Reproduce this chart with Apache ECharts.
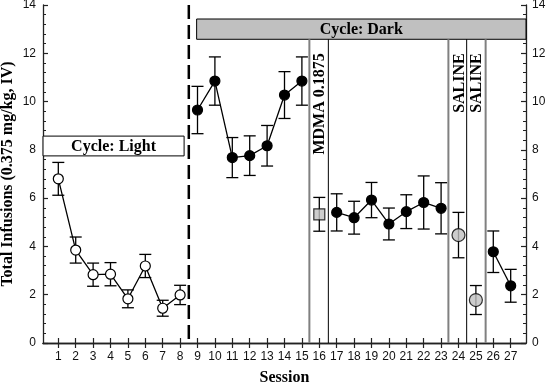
<!DOCTYPE html>
<html><head><meta charset="utf-8">
<script src="https://cdn.jsdelivr.net/npm/echarts@6/dist/echarts.min.js"></script>
<style>html,body{margin:0;padding:0;background:#fff}#c{width:547px;height:384px}</style>
</head><body><div id="c"></div>
<script>
// ---- data ----
const sessions = [1,2,3,4,5,6,7,8,9,10,11,12,13,14,15,16,17,18,19,20,21,22,23,24,25,26,27];
const yTicks = [0,2,4,6,8,10,12,14];

const lightSessions = [1,2,3,4,5,6,7,8];
const lightMean = [6.80,3.85,2.83,2.85,1.83,3.19,1.44,1.99];
const lightSem  = [0.68,0.54,0.48,0.48,0.37,0.48,0.33,0.40];

const darkSessionsA = [9,10,11,12,13,14,15];
const darkMeanA = [9.65,10.85,7.68,7.76,8.17,10.27,10.85];
const darkSemA  = [0.98,1.00,0.83,0.82,0.84,0.97,1.00];

const mdmaSessions = [16];
const mdmaMean = [5.33];
const mdmaSem  = [0.70];

const darkSessionsB = [17,18,19,20,21,22,23];
const darkMeanB = [5.41,5.19,5.92,4.93,5.44,5.82,5.58];
const darkSemB  = [0.77,0.68,0.73,0.66,0.70,1.10,1.06];

const salineSessions = [24,25];
const salineMean = [4.47,1.78];
const salineSem  = [0.94,0.60];

const darkSessionsC = [26,27];
const darkMeanC = [3.78,2.37];
const darkSemC  = [0.86,0.68];

// annotations (data space)
const cycleLabels = ['Cycle: Light','Cycle: Dark'];
const cycleX0 = [0.12, 8.95];
const cycleX1 = [8.23, 27.88];
const cycleY0 = [7.75, 12.58];
const cycleY1 = [8.57, 13.42];

const phaseSplit = 8.5;
const dividerX = [15.43,16.52,23.42,24.47,25.56];
const dividerKind = ['gray','black','gray','black','gray'];
const dividerTop = 12.58;

const phaseLabels = ['MDMA 0.1875','SALINE','SALINE'];
const phaseLabelX = [16,24,25];
const phaseLabelTop = 12.0;

// ---- build ----
const xMin = 0.12, xMax = 27.88;
const serif = 'Liberation Serif';
const sans = 'Liberation Sans';
const serifFont = 'bold 16px "Liberation Serif"';

function pts(xs, ys){ return xs.map((x,i)=>[x, ys[i]]); }
function errs(xs, ys, es){ return xs.map((x,i)=>[x, ys[i], es[i]]); }

const errData = [].concat(
  errs(lightSessions, lightMean, lightSem),
  errs(darkSessionsA, darkMeanA, darkSemA),
  errs(mdmaSessions, mdmaMean, mdmaSem),
  errs(darkSessionsB, darkMeanB, darkSemB),
  errs(salineSessions, salineMean, salineSem),
  errs(darkSessionsC, darkMeanC, darkSemC)
);

const boxData = cycleLabels.map((l,i)=>[cycleX0[i], cycleX1[i], cycleY0[i], cycleY1[i], i]);
const dividerData = dividerX.map((x,i)=>[x, dividerTop, i]);
const phaseData = phaseLabels.map((l,i)=>[phaseLabelX[i], phaseLabelTop, i]);

const black = '#000';
const axisCol = '#222';

const lineSeries = (data, fill) => ({
  type:'line', data, symbol:'circle', symbolSize:10, z:5,
  lineStyle:{color:black, width:1.3},
  itemStyle:{color:fill, borderColor:black, borderWidth:1.2},
  emphasis:{disabled:true}
});

const chart = echarts.init(document.getElementById('c'), null, {renderer:'canvas'});
chart.setOption({
  animation:false,
  backgroundColor:'#fff',
  grid:{left:43, right:21, top:5, bottom:41, containLabel:false, outerBoundsMode:'none'},
  xAxis:[{
    type:'value', min:xMin, max:xMax, position:'bottom',
    axisLine:{lineStyle:{color:axisCol, width:1.3}},
    axisTick:{inside:true, length:5, customValues:sessions, lineStyle:{color:axisCol, width:1.2}},
    axisLabel:{customValues:sessions, fontFamily:sans, fontSize:12, color:'#111', margin:8},
    splitLine:{show:false},
    name:'Session', nameLocation:'middle', nameGap:27, nameMoveOverlap:false,
    nameTextStyle:{fontFamily:serif, fontWeight:'bold', fontSize:16, color:black}
  },{
    type:'value', min:xMin, max:xMax, position:'top',
    axisLine:{lineStyle:{color:axisCol, width:1.3}},
    axisTick:{inside:true, length:5, customValues:sessions, lineStyle:{color:axisCol, width:1.2}},
    axisLabel:{show:false}, splitLine:{show:false}
  }],
  yAxis:[{
    type:'value', min:0, max:14, interval:2, position:'left',
    axisLine:{show:true, lineStyle:{color:axisCol, width:1.3}},
    axisTick:{show:true, inside:true, length:5, lineStyle:{color:axisCol, width:1.2}},
    minorTick:{show:true, splitNumber:5, length:3, lineStyle:{color:axisCol, width:1}},
    axisLabel:{fontFamily:sans, fontSize:12, color:'#111', margin:7,
      formatter:v=> yTicks.includes(v) ? String(v) : ''},
    splitLine:{show:false},
    name:'Total Infusions (0.375 mg/kg, IV)', nameLocation:'middle', nameGap:27, nameMoveOverlap:false,
    nameTextStyle:{fontFamily:serif, fontWeight:'bold', fontSize:16, color:black}
  },{
    type:'value', min:0, max:14, interval:2, position:'right',
    axisLine:{show:true, lineStyle:{color:axisCol, width:1.3}},
    axisTick:{show:true, inside:true, length:5, lineStyle:{color:axisCol, width:1.2}},
    minorTick:{show:true, splitNumber:5, length:3, lineStyle:{color:axisCol, width:1}},
    axisLabel:{fontFamily:sans, fontSize:12, color:'#111', margin:6},
    splitLine:{show:false}
  }],
  series:[
    { // dashed phase split line
      type:'custom', z:1, silent:true, clip:false,
      data:[[phaseSplit]],
      renderItem:(p, api)=>{
        const a = api.coord([api.value(0), 14]);
        const b = api.coord([api.value(0), 0]);
        return {type:'line', shape:{x1:a[0],y1:a[1],x2:b[0],y2:b[1]},
          style:{stroke:black, lineWidth:2.5, lineDash:[14,6]}};
      }
    },
    { // cycle boxes
      type:'custom', z:2, silent:true, clip:false,
      data:boxData,
      renderItem:(p, api)=>{
        const i = api.value(4);
        const tl = api.coord([api.value(0), api.value(3)]);
        const br = api.coord([api.value(1), api.value(2)]);
        return {type:'group', children:[
          {type:'rect', shape:{x:tl[0], y:tl[1], width:br[0]-tl[0], height:br[1]-tl[1]},
            style:{fill: i===0 ? '#fff' : '#c0c0c0', stroke:black, lineWidth:1}},
          {type:'text', x:(tl[0]+br[0])/2, y:(tl[1]+br[1])/2+1,
            style:{text:cycleLabels[i], fill:black, font:serifFont,
              align:'center', verticalAlign:'middle'}}
        ]};
      }
    },
    { // divider lines
      type:'custom', z:2, silent:true, clip:false,
      data:dividerData,
      renderItem:(p, api)=>{
        const i = api.value(2);
        const a = api.coord([api.value(0), api.value(1)]);
        const b = api.coord([api.value(0), 0]);
        const g = dividerKind[i]==='gray';
        return {type:'line', shape:{x1:a[0],y1:a[1],x2:b[0],y2:b[1]},
          style:{stroke: g ? '#808080' : black, lineWidth: g ? 2 : 1}};
      }
    },
    { // vertical phase labels
      type:'custom', z:3, silent:true, clip:false,
      data:phaseData,
      renderItem:(p, api)=>{
        const i = api.value(2);
        const a = api.coord([api.value(0), api.value(1)]);
        return {type:'text', x:a[0]+1, y:a[1], rotation:Math.PI/2,
          style:{text:phaseLabels[i], fill:black, font:serifFont,
            align:'right', verticalAlign:'middle'}};
      }
    },
    { // error bars
      type:'custom', z:4, silent:true,
      data:errData, encode:{x:0, y:1},
      renderItem:(p, api)=>{
        const x = api.value(0), m = api.value(1), e = api.value(2);
        const t = api.coord([x, m+e]), b = api.coord([x, m-e]);
        const hw = 6, st = {stroke:black, lineWidth:1.3};
        return {type:'group', children:[
          {type:'line', shape:{x1:t[0],y1:t[1],x2:b[0],y2:b[1]}, style:st},
          {type:'line', shape:{x1:t[0]-hw,y1:t[1],x2:t[0]+hw,y2:t[1]}, style:st},
          {type:'line', shape:{x1:b[0]-hw,y1:b[1],x2:b[0]+hw,y2:b[1]}, style:st}
        ]};
      }
    },
    lineSeries(pts(lightSessions, lightMean), '#fff'),
    lineSeries(pts(darkSessionsA, darkMeanA), black),
    lineSeries(pts(darkSessionsB, darkMeanB), black),
    lineSeries(pts(darkSessionsC, darkMeanC), black),
    { type:'scatter', data:pts(mdmaSessions, mdmaMean), symbol:'rect', symbolSize:11, z:5,
      itemStyle:{color:'#c0c0c0', borderColor:black, borderWidth:1.2}, emphasis:{disabled:true} },
    { type:'scatter', data:pts(salineSessions, salineMean), symbol:'circle', symbolSize:13, z:5,
      itemStyle:{color:'#c0c0c0', borderColor:black, borderWidth:1.2}, emphasis:{disabled:true} }
  ]
});
</script>
</body></html>
